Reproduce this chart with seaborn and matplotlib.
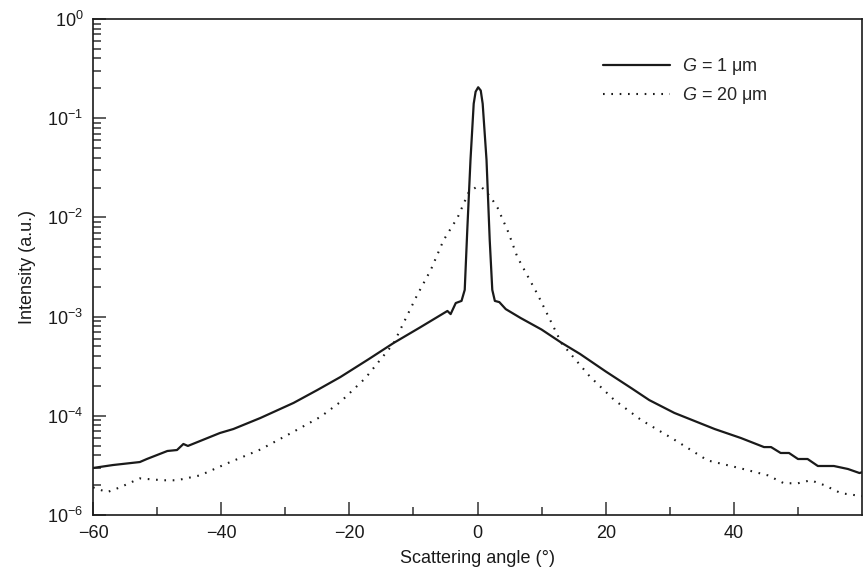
import matplotlib
matplotlib.use('Agg')
import matplotlib.pyplot as plt
import matplotlib.ticker as mticker
import numpy as np
import pandas as pd
import seaborn as sns

# G = 1 um (solid curve)
angle_g1 = [-60, -56.9, -52.7, -51.6, -48.4, -46.9, -45.9, -45.2, -40.2, -38.1,
            -33.9, -28.7, -25, -21.4, -17, -13.1, -9, -4.7, -4.2, -3.4,
            -2.5, -2.0, -1.6, -1.1, -0.6, -0.3, 0.1, 0.5, 0.8, 1.4,
            1.9, 2.3, 2.7, 3.4, 4.4, 6.7, 10, 13, 16, 20,
            24, 26.8, 30.7, 37.0, 41.1, 44.7, 45.8, 47.3, 48.6, 50.0,
            51.5, 53.1, 55.6, 57.8, 59.6, 60]
inten_g1 = [2.98e-5, 3.19e-5, 3.42e-5, 3.67e-5, 4.42e-5, 4.52e-5, 5.2e-5, 4.97e-5, 6.71e-5, 7.36e-5,
            9.5e-5, 1.35e-4, 1.82e-4, 2.46e-4, 3.72e-4, 5.42e-4, 7.76e-4, 1.14e-3, 1.06e-3, 1.37e-3,
            1.44e-3, 1.86e-3, 7.5e-3, 3.8e-2, 1.4e-1, 1.85e-1, 2.05e-1, 1.9e-1, 1.4e-1, 3.8e-2,
            5.9e-3, 1.86e-3, 1.44e-3, 1.40e-3, 1.19e-3, 9.7e-4, 7.4e-4, 5.5e-4, 4.2e-4, 2.8e-4,
            1.9e-4, 1.44e-4, 1.07e-4, 7.36e-5, 5.97e-5, 4.84e-5, 4.84e-5, 4.22e-5, 4.22e-5, 3.67e-5,
            3.67e-5, 3.12e-5, 3.12e-5, 2.91e-5, 2.65e-5, 2.7e-5]

# G = 20 um (dotted curve)
angle_g20 = [-60, -57.8, -55.8, -52.7, -49.1, -46.9, -43.3, -39.1, -33.9, -28.7,
             -24.5, -21.4, -17.5, -13.1, -9.4, -7.3, -5.3, -3.1, -1.4, -0.3,
             0.7, 2.0, 3.1, 4.8, 6.2, 9.4, 13.1, 17.5, 21.3, 25.5,
             30.7, 35.9, 41.1, 45.3, 47.8, 50.0, 52.0, 54.1, 56.7, 60]
inten_g20 = [1.9e-5, 1.7e-5, 1.9e-5, 2.34e-5, 2.24e-5, 2.24e-5, 2.51e-5, 3.31e-5, 4.57e-5, 6.92e-5,
             9.77e-5, 1.38e-4, 2.4e-4, 5.37e-4, 1.66e-3, 2.95e-3, 5.9e-3, 1.0e-2, 1.78e-2, 2.0e-2,
             2.0e-2, 1.62e-2, 1.26e-2, 7.1e-3, 4.0e-3, 1.66e-3, 5.4e-4, 2.5e-4, 1.45e-4, 9.1e-5,
             5.75e-5, 3.55e-5, 2.95e-5, 2.51e-5, 2.09e-5, 2.09e-5, 2.24e-5, 2.0e-5, 1.66e-5, 1.55e-5]

ytick_vals = [1e0, 1e-1, 1e-2, 1e-3, 1e-4, 1e-5]
ytick_text = [r'$10^{0}$', r'$10^{-1}$', r'$10^{-2}$', r'$10^{-3}$', r'$10^{-4}$', r'$10^{-6}$']
xtick_vals = [-60, -40, -20, 0, 20, 40]

df1 = pd.DataFrame({'angle': angle_g1, 'intensity': inten_g1})
df20 = pd.DataFrame({'angle': angle_g20, 'intensity': inten_g20})

sns.set_style('ticks')
plt.rcParams['font.family'] = ['Liberation Sans', 'DejaVu Sans']
plt.rcParams['mathtext.fontset'] = 'custom'
plt.rcParams['mathtext.rm'] = 'Liberation Sans'
plt.rcParams['mathtext.it'] = 'Liberation Sans:italic'

fig = plt.figure(figsize=(8.67, 5.79), dpi=100)
ax = fig.add_axes([0.1073, 0.1105, 0.887, 0.8567])

sns.lineplot(data=df1, x='angle', y='intensity', color='#1a1a1a', lw=1.6,
             label=r'$G$ = 1 μm', ax=ax)
sns.lineplot(data=df20, x='angle', y='intensity', color='#1a1a1a', lw=1.5,
             linestyle=(0, (0.8, 3.2)), label=r'$G$ = 20 μm', ax=ax)

ax.set_yscale('log')
ax.set_ylim(1e-5, 1e0)
ax.set_xlim(-60, 60)
ax.set_yticks(ytick_vals)
ax.set_yticklabels(ytick_text)
ax.yaxis.set_minor_locator(mticker.LogLocator(base=10, subs=np.arange(2, 10)))
ax.yaxis.set_minor_formatter(mticker.NullFormatter())
ax.set_xticks(xtick_vals)
ax.set_xticks([-50, -30, -10, 10, 30, 50], minor=True)

ax.tick_params(which='both', direction='in', top=False, right=False,
               colors='#333333', labelcolor='#1a1a1a', labelsize=13, width=1.1)
ax.tick_params(which='major', length=9.5, pad=7)
ax.tick_params(which='minor', length=5.5)
for sp in ax.spines.values():
    sp.set_linewidth(1.2)
    sp.set_color('#1a1a1a')

ax.set_xlabel('Scattering angle (°)', fontsize=13, color='#1a1a1a', labelpad=6)
ax.set_ylabel('Intensity (a.u.)', fontsize=13, color='#1a1a1a', labelpad=8)

ax.legend(loc='upper left', bbox_to_anchor=(0.663, 0.925), frameon=False,
          fontsize=13, handlelength=3.7, handletextpad=0.7, labelspacing=0.45,
          borderpad=0, borderaxespad=0)

fig.savefig('out.png', dpi=100)
